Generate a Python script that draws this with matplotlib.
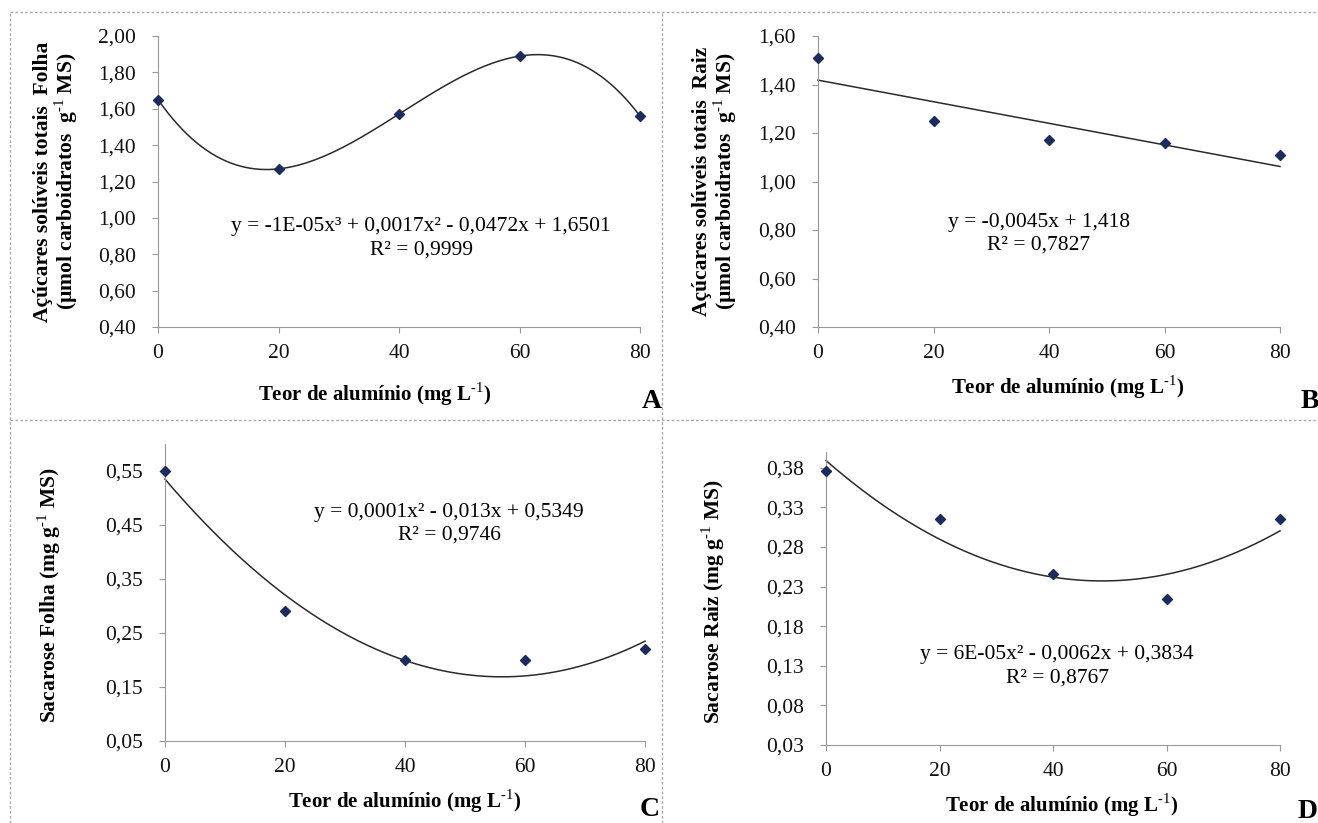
import numpy as np
import matplotlib.pyplot as plt
from matplotlib.lines import Line2D

plt.rcParams['font.family'] = ['Liberation Serif', 'DejaVu Serif']
plt.rcParams['mathtext.fontset'] = 'custom'
plt.rcParams['mathtext.rm'] = 'Liberation Serif'
plt.rcParams['mathtext.bf'] = 'Liberation Serif:bold'

# dados
teor = [0, 20, 40, 60, 80]
acucar_folha = [1.65, 1.27, 1.57, 1.89, 1.56]
acucar_raiz = [1.51, 1.25, 1.17, 1.16, 1.11]
sacarose_folha = [0.55, 0.29, 0.20, 0.20, 0.22]
sacarose_raiz = [0.376, 0.315, 0.246, 0.215, 0.315]

eq_A = ["y = -1E-05x³ + 0,0017x² - 0,0472x + 1,6501", "R² = 0,9999"]
eq_B = ["y = -0,0045x + 1,418", "R² = 0,7827"]
eq_C = ["y = 0,0001x² - 0,013x + 0,5349", "R² = 0,9746"]
eq_D = ["y = 6E-05x² - 0,0062x + 0,3834", "R² = 0,8767"]

W, H = 1318, 823
fig = plt.figure(figsize=(W / 100, H / 100), dpi=100)

def px(x0, x1, ytop, ybot):
    return [x0 / W, 1 - ybot / H, (x1 - x0) / W, (ybot - ytop) / H]

sup = "$^{\\text{-1}}$"
xlab = "Teor de alumínio (mg L" + sup + ")"

paineis = [
    # pos, y, grau, ylim, yticks, ylabel, label coords, xlabel coords, eq, eq pos, letra
    (px(158, 640, 36, 327), acucar_folha, 3, (0.4, 2.0), np.arange(0.4, 2.01, 0.2),
     "Açúcares solúveis totais  Folha\n(µmol carboidratos  g" + sup + " MS)",
     (-0.162, 0.5), (0.449, -0.185), eq_A, (421, 227), ("A", 652, 402)),
    (px(818, 1280, 36, 327), acucar_raiz, 1, (0.4, 1.6), np.arange(0.4, 1.61, 0.2),
     "Açúcares solúveis totais  Raiz\n(µmol carboidratos  g" + sup + " MS)",
     (-0.172, 0.5), (0.541, -0.16), eq_B, (1039, 222), ("B", 1310, 402)),
    (px(165, 645, 444, 741), sacarose_folha, 2, (0.05, 0.6), np.arange(0.05, 0.56, 0.1),
     "Sacarose Folha (mg g" + sup + " MS)",
     (-0.212, 0.49), (0.5, -0.155), eq_C, (449, 512), ("C", 650, 810)),
    (px(826, 1280, 452, 745), sacarose_raiz, 2, (0.03, 0.40), np.arange(0.03, 0.39, 0.05),
     "Sacarose Raiz (mg g" + sup + " MS)",
     (-0.218, 0.49), (0.52, -0.16), eq_D, (1057, 655), ("D", 1308, 812)),
]

for pos, y, grau, ylim, yticks, ylabel, ylc, xlc, eq, eqpos, letra in paineis:
    ax = fig.add_axes(pos)
    coef = np.polyfit(teor, y, grau)
    xs = np.linspace(0, 80, 200)
    ax.plot(xs, np.polyval(coef, xs), color='#2a2a2a', lw=1.1, clip_on=False)
    ax.plot(teor, y, 'D', color='#1c2b5e', ms=5, clip_on=False, zorder=5)

    ax.set_xlim(0, 80)
    ax.set_ylim(*ylim)
    ax.set_xticks(teor)
    ax.set_yticks(yticks)
    ax.set_yticklabels([f"{v:.2f}".replace('.', ',') for v in yticks])
    for s in ['top', 'right']:
        ax.spines[s].set_visible(False)
    for s in ['left', 'bottom']:
        ax.spines[s].set_color('#999999')
        ax.spines[s].set_linewidth(0.8)
    ax.tick_params(axis='both', colors='#999999', labelcolor='#111111',
                   labelsize=15.5, length=4, width=0.8)
    ax.tick_params(axis='x', pad=8)
    ax.tick_params(axis='y', pad=12)

    ax.set_ylabel(ylabel, fontsize=15.5, fontweight='bold', linespacing=0.95)
    ax.yaxis.set_label_coords(*ylc)
    ax.set_xlabel(xlab, fontsize=15, fontweight='bold')
    ax.xaxis.set_label_coords(*xlc)

    fig.text(eqpos[0] / W, 1 - eqpos[1] / H, eq[0], ha='center', va='center', fontsize=15.5)
    fig.text(eqpos[0] / W, 1 - (eqpos[1] + 23) / H, eq[1], ha='center', va='center', fontsize=15.5)
    fig.text(letra[1] / W, 1 - letra[2] / H, letra[0], ha='center', va='center',
             fontsize=20, fontweight='bold')

# bordas tracejadas dos paineis
borda = dict(color='#aaaaaa', lw=1.0, ls=(0, (2, 1.5)))
fig.add_artist(Line2D([10 / W, 1], [1 - 12 / H, 1 - 12 / H], **borda))
fig.add_artist(Line2D([10 / W, 1], [1 - 420 / H, 1 - 420 / H], **borda))
fig.add_artist(Line2D([10 / W, 10 / W], [0, 1 - 12 / H], **borda))
fig.add_artist(Line2D([662 / W, 662 / W], [0, 1 - 12 / H], **borda))

fig.savefig('out.png', dpi=100)
